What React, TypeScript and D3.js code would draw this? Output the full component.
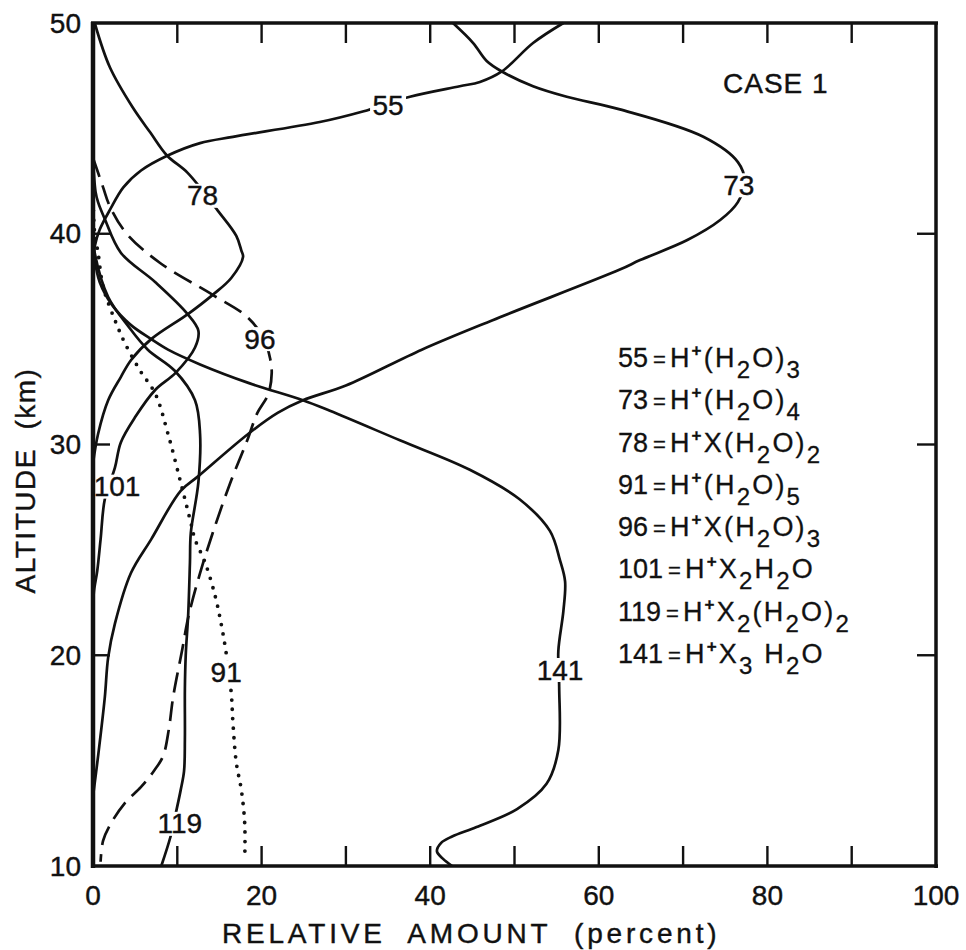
import React from "react";
import * as d3 from "d3";

// ---- axis ticks ----
const X_TICKS = [10, 20, 30, 40, 50, 60, 70, 80, 90];
const X_LABELS = [0, 20, 40, 60, 80, 100];
const Y_LABELS = [10, 20, 30, 40, 50];
const Y_INNER_TICKS = [20, 30, 40];

// ---- series: [altitude km, relative amount %] ----
const s55: [number, number][] = [
  [50, 55.8], [49.05, 52.2], [47.7, 48.5], [47.2, 45.9], [47.0, 43.5], [46.5, 37.6],
  [45.8, 32.0], [45.3, 26.9], [44.6, 16.6], [44.3, 12.7], [43.7, 8.8], [43.0, 5.7],
  [42.2, 3.6], [41.2, 2.1], [40.2, 0.8], [39.4, 0.2], [38.5, 0],
];
const s73: [number, number][] = [
  [50, 42.7], [49.05, 45.1], [48.2, 46.7], [47.7, 48.5], [47.0, 52.2], [46.5, 56.2],
  [45.9, 62.5], [44.6, 72.4], [43.4, 76.5], [42.5, 77.3], [41.5, 76.5], [40.65, 74.4],
  [39.7, 70.5], [38.75, 64.9], [38.3, 62.5], [35.9, 47.4], [34.5, 39.0], [32.8, 30.0],
  [32.1, 24.9], [31.5, 21.9], [30.5, 18.4], [28.5, 12.5], [27.8, 10.4], [25.5, 6.9],
  [23.9, 4.5], [21.5, 2.6], [19.9, 1.8], [18.0, 1.4], [15.2, 0.6], [13.3, 0],
];
const s78: [number, number][] = [
  [50, 0.2], [47.9, 2.0], [46.0, 4.7], [44.8, 6.8], [43.7, 8.8], [42.9, 11.2],
  [41.1, 14.8], [39.9, 17.0], [39.2, 17.6], [38.9, 17.8], [37.9, 16.4], [37.1, 14.2],
  [36.2, 11.3], [35.0, 6.9], [34.0, 4.5], [33.2, 3.3], [32.1, 1.8], [30.5, 0.6], [29.1, 0],
];
const s91: [number, number][] = [
  [42.0, 0], [40.0, 0.2], [39.1, 0.6], [37.9, 1.0], [37.2, 1.4], [35.9, 2.6], [34.8, 3.8],
  [33.5, 5.6], [32.4, 7.4], [30.5, 8.9], [28.2, 10.4], [26.3, 11.6], [25.5, 12.1],
  [24.4, 13.3], [22.8, 14.5], [21.5, 15.2], [20.1, 15.8], [18.2, 16.4], [16.8, 16.6],
  [14.9, 17.0], [13.6, 17.6], [12.0, 18.0], [10.3, 18.0],
];
const s96: [number, number][] = [
  [43.6, 0], [42.2, 1.2], [41.3, 2.0], [40.0, 4.0], [38.6, 8.0], [37.1, 14.2], [36.05, 18.3],
  [35.0, 20.3], [34.1, 21.0], [33.4, 21.2], [32.4, 20.8], [31.5, 19.5], [30.2, 18.3],
  [28.2, 16.3], [25.8, 14.2], [23.9, 12.7], [21.8, 11.3], [20.3, 10.6], [18.0, 9.5],
  [16.5, 9.0], [15.2, 8.3], [14.5, 7.2], [13.75, 5.7], [13.0, 3.8], [12.0, 2.1],
  [11.2, 1.2], [10.2, 0.9],
];
const s101: [number, number][] = [
  [43.6, 0], [42.0, 0.3], [41.5, 0.6], [40.7, 1.4], [39.1, 3.3], [37.7, 7.4], [36.2, 11.2],
  [35.4, 12.5], [34.6, 12.1], [33.4, 9.8], [32.6, 7.4], [31.3, 5.0], [30.1, 3.3],
  [28.9, 2.6], [27.4, 1.4], [25.5, 0.9], [24.0, 0.5], [23.0, 0.1], [22.0, 0],
];
const s119: [number, number][] = [
  [10.0, 8.1], [11.4, 9.2], [12.65, 9.9], [13.6, 10.4], [14.5, 10.8], [16.0, 10.9],
  [18.4, 10.9], [20.0, 11.0], [22.0, 11.3], [24.4, 11.5], [25.8, 11.6], [28.2, 12.5],
  [30.5, 12.7], [32.1, 12.1], [33.5, 9.7], [34.5, 6.5], [35.6, 4.2], [37.0, 1.8],
  [39.1, 0.2], [40.0, 0],
];
const s141: [number, number][] = [
  [10.0, 42.6], [10.35, 41.5], [10.7, 40.8], [11.1, 41.3], [11.4, 42.6], [11.85, 45.5],
  [12.7, 50.3], [13.9, 53.8], [15.5, 55.2], [18.5, 55.3], [20.2, 55.2], [22.1, 55.8],
  [23.5, 56.0], [24.5, 55.4], [25.9, 54.2], [27.4, 50.6], [28.8, 44.7], [30.2, 36.4],
  [31.6, 28.1], [32.1, 24.9], [32.9, 18.6], [33.8, 12.7], [34.5, 8.9], [35.0, 6.9],
  [35.7, 4.4], [36.6, 2.3], [37.7, 0.8], [38.8, 0.2], [40.0, 0],
];

const SERIES_IDS = ["55", "73", "78", "91", "96", "101", "119", "141"];
const SERIES_DATA = [s55, s73, s78, s91, s96, s101, s119, s141];
const SERIES_DASH = ["solid", "solid", "solid", "dotted", "dashed", "solid", "solid", "solid"];
// curve label anchors [altitude, percent]
const LABEL_POS: [number, number][] = [
  [46.1, 35.0], [42.3, 76.6], [41.8, 13.0], [19.2, 15.8], [35.0, 19.8], [28.0, 2.85], [12.0, 10.3], [19.3, 55.4],
];
const LEGEND_FORMULAS = [
  "H^+(H_2O)_3", "H^+(H_2O)_4", "H^+X(H_2O)_2", "H^+(H_2O)_5",
  "H^+X(H_2O)_3", "H^+X_2H_2O", "H^+X_2(H_2O)_2", "H^+X_3 H_2O",
];

const W = 966;
const H = 950;
const M = { left: 93, right: 936, top: 23, bottom: 866 };
const FONT = "'Liberation Sans', Arial, sans-serif";
const INK = "#111";

function formulaSpans(f: string) {
  const out: React.ReactNode[] = [];
  let shift = 0;
  let i = 0;
  let k = 0;
  while (i < f.length) {
    let mode = "n";
    let ch = "";
    if (f[i] === "^") { mode = "sup"; ch = f[i + 1]; i += 2; }
    else if (f[i] === "_") { mode = "sub"; ch = f[i + 1]; i += 2; }
    else {
      while (i < f.length && f[i] !== "^" && f[i] !== "_") { ch += f[i]; i++; }
    }
    const target = mode === "sup" ? -11 : mode === "sub" ? 11 : 0;
    const fs = mode === "sup" ? 17 : mode === "sub" ? 24 : 27;
    out.push(
      <tspan key={k++} dy={target - shift} fontSize={fs} fontWeight={mode === "sup" ? "bold" : "normal"}>
        {ch}
      </tspan>
    );
    shift = target;
  }
  return out;
}

export default function App() {
  const x = d3.scaleLinear().domain([0, 100]).range([M.left, M.right]);
  const y = d3.scaleLinear().domain([10, 50]).range([M.bottom, M.top]);
  const line = d3
    .line<[number, number]>()
    .x((d) => x(d[1]))
    .y((d) => y(d[0]))
    .curve(d3.curveCatmullRom.alpha(0.5));

  const legendY = d3.scaleLinear().domain([0, 7]).range([367, 663]);

  return (
    <svg
      width={W}
      height={H}
      style={{ position: "absolute", left: 0, top: 0, background: "#fff" }}
      fontFamily={FONT}
    >
      <rect x={0} y={0} width={W} height={H} fill="#fff" />

      {/* curves */}
      {SERIES_DATA.map((d, i) => (
        <path
          key={SERIES_IDS[i]}
          d={line(d) || ""}
          fill="none"
          stroke={INK}
          strokeWidth={SERIES_DASH[i] === "dotted" ? 3.8 : 2.7}
          strokeDasharray={SERIES_DASH[i] === "dotted" ? "0 9.5" : SERIES_DASH[i] === "dashed" ? "20 9" : undefined}
          strokeLinecap={SERIES_DASH[i] === "dotted" ? "round" : "butt"}
        />
      ))}

      {/* curve labels with gaps */}
      {SERIES_IDS.map((id, i) => {
        const cx = x(LABEL_POS[i][1]);
        const cy = y(LABEL_POS[i][0]);
        const w = id.length * 15 + 6;
        return (
          <g key={"lab" + id}>
            <rect x={cx - w / 2} y={cy - 12} width={w} height={24} fill="#fff" />
            <text x={cx} y={cy} textAnchor="middle" dominantBaseline="central" fontSize={28} fill={INK} stroke={INK} strokeWidth={0.4}>
              {id}
            </text>
          </g>
        );
      })}

      {/* frame */}
      <line x1={M.left} x2={M.left} y1={M.top - 1} y2={M.bottom + 2} stroke={INK} strokeWidth={4.5} />
      <line x1={M.right} x2={M.right} y1={M.top - 1} y2={M.bottom + 2} stroke={INK} strokeWidth={3.5} />
      <line x1={M.left - 2} x2={M.right + 2} y1={M.top} y2={M.top} stroke={INK} strokeWidth={3.5} />
      <line x1={M.left - 2} x2={M.right + 2} y1={M.bottom} y2={M.bottom} stroke={INK} strokeWidth={3.5} />

      {/* ticks */}
      {X_TICKS.map((t) => (
        <g key={"xt" + t}>
          <line x1={x(t)} x2={x(t)} y1={M.top} y2={M.top + 20} stroke={INK} strokeWidth={2.4} />
          <line x1={x(t)} x2={x(t)} y1={M.bottom} y2={M.bottom - 20} stroke={INK} strokeWidth={2.4} />
        </g>
      ))}
      {Y_INNER_TICKS.map((t) => (
        <g key={"yt" + t}>
          <line x1={M.left} x2={M.left + 17} y1={y(t)} y2={y(t)} stroke={INK} strokeWidth={2.4} />
          <line x1={M.right} x2={M.right - 19} y1={y(t)} y2={y(t)} stroke={INK} strokeWidth={2.4} />
        </g>
      ))}

      {/* tick labels */}
      {X_LABELS.map((t) => (
        <text key={"xl" + t} x={x(t)} y={905} textAnchor="middle" fontSize={28} fill={INK} stroke={INK} strokeWidth={0.4}>
          {t}
        </text>
      ))}
      {Y_LABELS.map((t) => (
        <text key={"yl" + t} x={81} y={y(t)} textAnchor="end" dominantBaseline="central" fontSize={28} fill={INK} stroke={INK} strokeWidth={0.4}>
          {t}
        </text>
      ))}

      {/* axis titles */}
      <text x={222} y={943} fontSize={28} letterSpacing={3.8} fill={INK} stroke={INK} strokeWidth={0.4} xmlSpace="preserve" style={{ whiteSpace: "pre" }}>
        {"RELATIVE  AMOUNT  (percent)"}
      </text>
      <text
        transform={`translate(35,${(368 + 593) / 2}) rotate(-90)`}
        textAnchor="middle"
        fontSize={28}
        letterSpacing={1.5}
        fill={INK}
        stroke={INK}
        strokeWidth={0.4}
        xmlSpace="preserve"
        style={{ whiteSpace: "pre" }}
      >
        {"ALTITUDE  (km)"}
      </text>

      {/* case title */}
      <text x={723} y={93} fontSize={28} letterSpacing={1} fill={INK} stroke={INK} strokeWidth={0.4}>
        CASE 1
      </text>

      {/* legend */}
      {SERIES_IDS.map((id, i) => (
        <text key={"lg" + id} x={618} y={legendY(i)} fontSize={27} fill={INK} stroke={INK} strokeWidth={0.3} xmlSpace="preserve" style={{ whiteSpace: "pre" }}>
          <tspan>{id}</tspan>
          <tspan dx={5} fontSize={22}>=</tspan>
          <tspan dx={4} letterSpacing={2.2}>{formulaSpans(LEGEND_FORMULAS[i])}</tspan>
        </text>
      ))}
    </svg>
  );
}
